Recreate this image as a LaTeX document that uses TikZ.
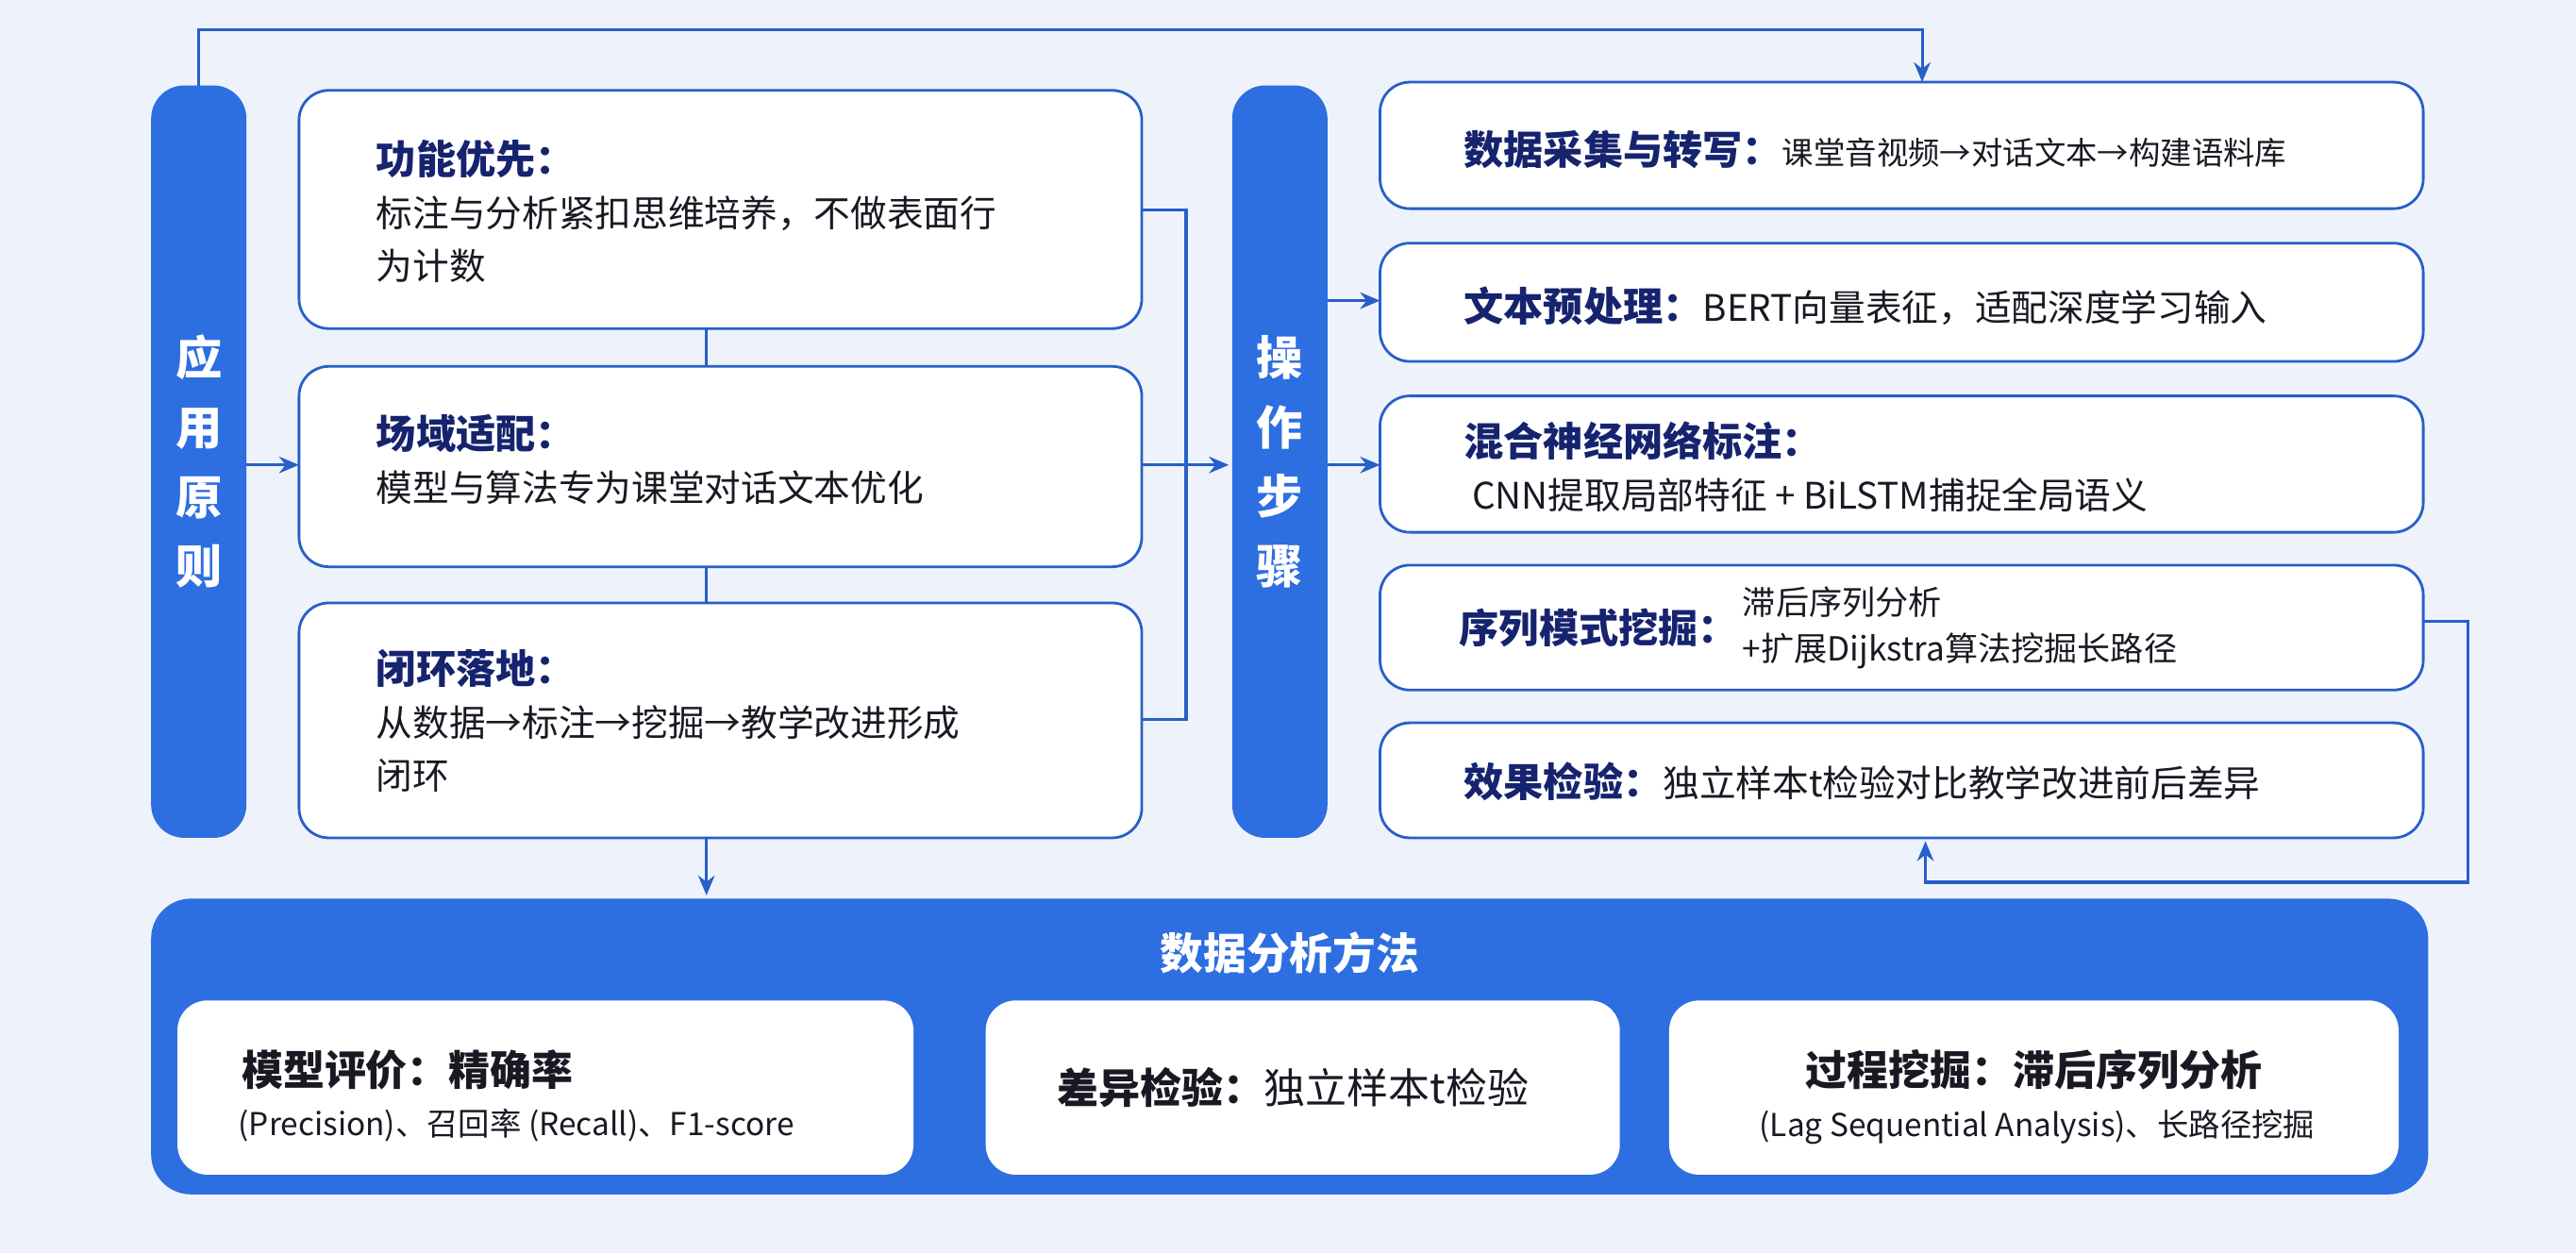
\documentclass[tikz,border=0pt]{standalone}
\usepackage{fontspec}
\setmainfont{Noto Sans CJK SC}
\usetikzlibrary{arrows.meta,positioning,calc}
\definecolor{bgblue}{RGB}{238,243,251}
\definecolor{barblue}{RGB}{45,110,225}
\definecolor{linkblue}{RGB}{40,95,200}
\definecolor{titlenavy}{RGB}{22,35,110}
\definecolor{textdark}{RGB}{25,25,35}

\begin{document}
\begin{tikzpicture}[
    x=0.017411cm, y=-0.017411cm,
    frame/.style={draw=linkblue, line width=0.8pt, fill=white, rounded corners=9pt},
    body/.style={anchor=north west, align=left, text=textdark, font=\fontsize{11}{16}\selectfont},
    arrow/.style={-{Stealth[length=6pt,width=5pt]}, line width=0.9pt, draw=linkblue},
    link/.style={line width=0.9pt, draw=linkblue}
]
    \fill[bgblue] (0,0) rectangle (1568,763);

    % Left: principles
    \fill[barblue, rounded corners=10pt] (92,52) rectangle (150,510);
    \node[text=white, font=\bfseries\fontsize{14}{21}\selectfont, align=center] (principle) at (121,281) {应\\用\\原\\则};
    \coordinate (pltop) at (121,52);

    \draw[frame] (182,55) rectangle (695,200);
    \node[body] (p1) at (222,78) {{\color{titlenavy}\bfseries\fontsize{12}{16}\selectfont 功能优先：}\\标注与分析紧扣思维培养，不做表面行\\为计数};
    \draw[frame] (182,223) rectangle (695,345);
    \node[body] (p2) at (222,245) {{\color{titlenavy}\bfseries\fontsize{12}{16}\selectfont 场域适配：}\\模型与算法专为课堂对话文本优化};
    \draw[frame] (182,367) rectangle (695,510);
    \node[body] (p3) at (222,388) {{\color{titlenavy}\bfseries\fontsize{12}{16}\selectfont 闭环落地：}\\从数据→标注→挖掘→教学改进形成\\闭环};
    \coordinate (p1s) at (430,200); \coordinate (p2n) at (430,223);
    \coordinate (p2s) at (430,345); \coordinate (p3n) at (430,367);
    \coordinate (p3s) at (430,510);
    \coordinate (p1e) at (695,128); \coordinate (p2e) at (695,283);
    \coordinate (p2w) at (182,283); \coordinate (p3e) at (695,438);

    % Center: steps
    \fill[barblue, rounded corners=10pt] (750,52) rectangle (808,510);
    \node[text=white, font=\bfseries\fontsize{14}{21}\selectfont, align=center] (step) at (779,281) {操\\作\\步\\骤};

    % Right: step boxes
    \foreach \yt/\yb in {50/127, 148/220, 241/324, 344/420, 440/510}
        \draw[frame] (840,\yt) rectangle (1475,\yb);
    \node[anchor=west, text=textdark] (s1) at (884,91) {{\color{titlenavy}\bfseries\fontsize{12}{15}\selectfont 数据采集与转写：}{\fontsize{9.5}{12}\selectfont 课堂音视频→对话文本→构建语料库}};
    \node[anchor=west, text=textdark, font=\fontsize{11}{15}\selectfont] (s2) at (884,186) {{\color{titlenavy}\bfseries\fontsize{12}{15}\selectfont 文本预处理：}BERT向量表征，适配深度学习输入};
    \node[anchor=west, align=left, text=textdark, font=\fontsize{11}{16}\selectfont] (s3) at (884,284) {{\color{titlenavy}\bfseries\fontsize{12}{16}\selectfont 混合神经网络标注：}\\\ CNN提取局部特征 + BiLSTM捕捉全局语义};
    \node[anchor=west, text=titlenavy, font=\bfseries\fontsize{12}{15}\selectfont, inner xsep=0pt] (s4t) at (888,382) {序列模式挖掘：};
    \node[anchor=west, align=left, text=textdark, font=\fontsize{10}{14}\selectfont, inner xsep=1pt] (s4) at (s4t.east) {滞后序列分析\\+扩展Dijkstra算法挖掘长路径};
    \node[anchor=west, text=textdark, font=\fontsize{11}{15}\selectfont] (s5) at (884,476) {{\color{titlenavy}\bfseries\fontsize{12}{15}\selectfont 效果检验：}独立样本t检验对比教学改进前后差异};
    \coordinate (s1n) at (1170,50); \coordinate (s2w) at (840,183);
    \coordinate (s3w) at (840,283); \coordinate (s4e) at (1475,378);
    \coordinate (s5s) at (1172,512);

    % Bottom: analysis
    \fill[barblue, rounded corners=12pt] (92,547) rectangle (1478,727);
    \node[text=white, font=\bfseries\fontsize{13}{16}\selectfont] (ana) at (785,580) {数据分析方法};
    \coordinate (anan) at (430,545);
    \fill[white, rounded corners=9pt] (108,609) rectangle (556,715);
    \fill[white, rounded corners=9pt] (600,609) rectangle (986,715);
    \fill[white, rounded corners=9pt] (1016,609) rectangle (1460,715);
    \node[anchor=west, align=left, text=textdark, font=\bfseries\fontsize{12.5}{16}\selectfont] (a1t) at (140,651) {模型评价：精确率};
    \node[anchor=west, text=textdark, font=\fontsize{9.5}{12}\selectfont] (a1) at (138,685) {(Precision)、召回率 (Recall)、F1-score};
    \node[text=textdark, font=\bfseries\fontsize{12.5}{16}\selectfont] (a2) at (787,662) {差异检验：{\mdseries 独立样本t检验}};
    \node[text=textdark, font=\bfseries\fontsize{12.5}{16}\selectfont] (a3t) at (1238,651) {过程挖掘：滞后序列分析};
    \node[text=textdark, font=\fontsize{9.5}{12}\selectfont] (a3) at (1240,686) {(Lag Sequential Analysis)、长路径挖掘};

    % Connectors
    \draw[arrow] (pltop) |- (1170,18) -- (s1n);
    \draw[link] (p1s) -- (p2n);
    \draw[link] (p2s) -- (p3n);
    \draw[arrow] (150,283) -- (p2w);
    \draw[link] (p1e) -| (722,438) -- (p3e);
    \draw[arrow] (p2e) -- (748,283);
    \draw[arrow] (808,183) -- (s2w);
    \draw[arrow] (808,283) -- (s3w);
    \draw[arrow] (s4e) -| (1502,537) -| (s5s);
    \draw[arrow] (p3s) -- (anan);
\end{tikzpicture}
\end{document}
